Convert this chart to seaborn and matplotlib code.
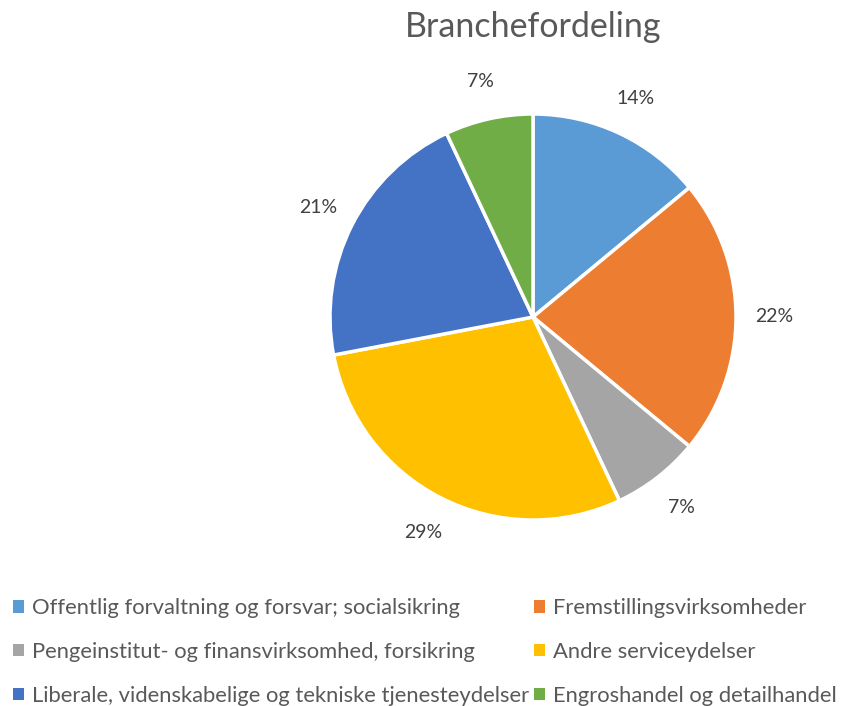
import numpy as np
import seaborn as sns
import matplotlib.pyplot as plt

# data
brancher = ['Offentlig forvaltning og forsvar; socialsikring',
            'Fremstillingsvirksomheder',
            'Pengeinstitut- og finansvirksomhed, forsikring',
            'Andre serviceydelser',
            'Liberale, videnskabelige og tekniske tjenesteydelser',
            'Engroshandel og detailhandel']
andele = [14, 22, 7, 29, 21, 7]
farver = ['#5B9BD5', '#ED7D31', '#A5A5A5', '#FFC000', '#4472C4', '#70AD47']

sns.set_style('white')
plt.rcParams['font.family'] = ['Lato', 'DejaVu Sans']

W, H = 851, 706
fig = plt.figure(figsize=(W / 100, H / 100), dpi=100)

# pie axes: centre (533, 317), radius 203 px
cx, cy, r = 533, 317, 203
ax = fig.add_axes([(cx - r) / W, 1 - (cy + r) / H, 2 * r / W, 2 * r / H])

wedges, texts, autotexts = ax.pie(
    andele, colors=sns.color_palette(farver), startangle=90, counterclock=False,
    autopct='%.0f%%', pctdistance=1.19,
    wedgeprops=dict(edgecolor='white', linewidth=2.5),
    textprops=dict(color='#404040', fontsize=14))
ax.set_xlim(-1, 1)
ax.set_ylim(-1, 1)
ax.set_aspect('equal')
ax.axis('off')

fig.text(cx / W, 1 - 27 / H, 'Branchefordeling', ha='center', va='center',
         fontsize=24.5, color='#595959')

# legend filled row by row (matplotlib fills column by column)
order = [0, 2, 4, 1, 3, 5]
leg = fig.legend([wedges[i] for i in order], [brancher[i] for i in order],
                 ncol=2, loc='upper left',
                 bbox_to_anchor=(0.0, 1 - 585 / H), frameon=False,
                 fontsize=15.8, labelcolor='#595959', handlelength=0.5,
                 handleheight=0.5, handletextpad=0.35, columnspacing=0.25,
                 labelspacing=1.08, borderaxespad=0.2)
for h in leg.legend_handles:
    h.set_edgecolor('none')

fig.savefig('out.png', dpi=100)
